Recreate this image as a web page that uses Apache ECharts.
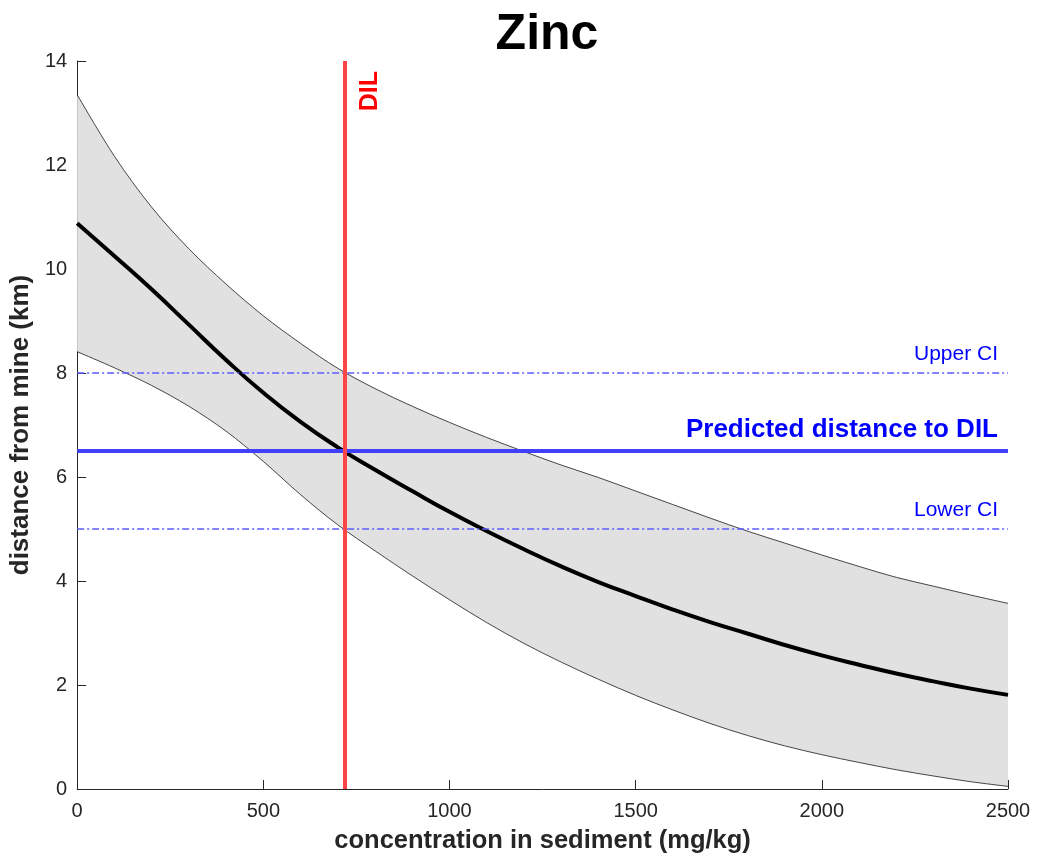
<!DOCTYPE html>
<html>
<head>
<meta charset="utf-8">
<script src="https://cdn.jsdelivr.net/npm/echarts@6/dist/echarts.min.js"></script>
<style>html,body{margin:0;padding:0;background:#fff;}#c{width:1037px;height:861px;}</style>
</head>
<body>
<div id="c"></div>
<script>
const concentration = [0,100,200,300,400,500,600,700,800,900,1000,1100,1200,1300,1400,1500,1600,1700,1800,1900,2000,2100,2200,2300,2400,2500];
const predicted = [10.88,10.25,9.61,8.93,8.25,7.62,7.06,6.57,6.14,5.73,5.33,4.96,4.61,4.28,3.98,3.71,3.45,3.21,2.99,2.77,2.57,2.39,2.22,2.07,1.93,1.81];
const upperBound = [13.35,12.17,11.19,10.39,9.71,9.10,8.57,8.09,7.70,7.36,7.05,6.76,6.49,6.23,5.99,5.73,5.47,5.21,4.96,4.73,4.50,4.28,4.07,3.90,3.73,3.57];
const lowerBound = [8.41,8.10,7.76,7.36,6.88,6.30,5.66,5.08,4.58,4.10,3.64,3.20,2.80,2.44,2.11,1.80,1.52,1.26,1.03,0.83,0.66,0.51,0.37,0.25,0.14,0.05];
const DIL = 720;
const predictedDistance = 6.5;
const upperCI = 8;
const lowerCI = 5;
const xTicks = [0,500,1000,1500,2000,2500];
const yTicks = [0,2,4,6,8,10,12,14];

const pair = (ys) => concentration.map((x, i) => [x, ys[i]]);

function curveSegments(pts) {
  let d = '';
  for (let i = 0; i < pts.length - 1; i++) {
    const p0 = pts[i - 1] || pts[i], p1 = pts[i], p2 = pts[i + 1], p3 = pts[i + 2] || pts[i + 1];
    const c1x = p1[0] + (p2[0] - p0[0]) / 6, c1y = p1[1] + (p2[1] - p0[1]) / 6;
    const c2x = p2[0] - (p3[0] - p1[0]) / 6, c2y = p2[1] - (p3[1] - p1[1]) / 6;
    d += ` C ${c1x} ${c1y} ${c2x} ${c2y} ${p2[0]} ${p2[1]}`;
  }
  return d;
}

const FONT = '"Liberation Sans", Arial, Helvetica, sans-serif';
const chart = echarts.init(document.getElementById('c'), null, {renderer: 'canvas'});
chart.setOption({
  animation: false,
  backgroundColor: '#ffffff',
  title: {
    text: 'Zinc', left: 542, top: 5, textAlign: 'center',
    textStyle: {fontFamily: FONT, fontWeight: 'bold', fontSize: 50, color: '#000'}
  },
  grid: {left: 76, right: 29, top: 61, bottom: 72, containLabel: false},
  xAxis: {
    type: 'value', min: 0, max: 2500, interval: 500,
    name: 'concentration in sediment (mg/kg)', nameLocation: 'middle', nameGap: 39,
    nameTextStyle: {fontFamily: FONT, fontWeight: 'bold', fontSize: 25.5, color: '#262626'},
    axisLine: {show: true, lineStyle: {color: '#262626', width: 1}},
    axisTick: {show: true, inside: true, length: 9, lineStyle: {color: '#262626'}},
    axisLabel: {fontFamily: FONT, fontSize: 20, color: '#262626', margin: 12,
      formatter: v => xTicks.includes(v) ? String(v) : ''},
    splitLine: {show: false}
  },
  yAxis: {
    type: 'value', min: 0, max: 14, interval: 2,
    name: 'distance from mine (km)', nameLocation: 'middle', nameGap: 41, nameRotate: 90,
    nameTextStyle: {fontFamily: FONT, fontWeight: 'bold', fontSize: 26, color: '#262626'},
    axisLine: {show: true, lineStyle: {color: '#262626', width: 1}},
    axisTick: {show: true, inside: true, length: 9, lineStyle: {color: '#262626'}},
    axisLabel: {fontFamily: FONT, fontSize: 20, color: '#262626', margin: 10,
      formatter: v => yTicks.includes(v) ? String(v) : ''},
    splitLine: {show: false}
  },
  series: [
    {
      type: 'custom', name: 'confidence band', data: [[0, 0]], silent: true, z: 1, clip: true,
      renderItem: (params, api) => {
        const up = concentration.map((x, i) => api.coord([x, upperBound[i]]));
        const lo = concentration.map((x, i) => api.coord([x, lowerBound[i]]));
        const loRev = lo.slice().reverse();
        const fillPath = `M ${up[0][0]} ${up[0][1]}` + curveSegments(up) +
          ` L ${loRev[0][0]} ${loRev[0][1]}` + curveSegments(loRev) + ' Z';
        const upPath = `M ${up[0][0]} ${up[0][1]}` + curveSegments(up);
        const loPath = `M ${lo[0][0]} ${lo[0][1]}` + curveSegments(lo);
        return {
          type: 'group',
          children: [
            {type: 'path', shape: {pathData: fillPath}, style: {fill: '#e1e1e1', stroke: null}},
            {type: 'path', shape: {pathData: upPath}, style: {fill: null, stroke: '#1a1a1a', lineWidth: 0.8}},
            {type: 'path', shape: {pathData: loPath}, style: {fill: null, stroke: '#1a1a1a', lineWidth: 0.8}}
          ]
        };
      }
    },
    {type: 'line', name: 'refs', data: [], z: 3,
      markLine: {
        silent: true, symbol: 'none', animation: false,
        data: [
          {yAxis: upperCI, lineStyle: {color: '#5c5cff', width: 1.5, type: [7, 3, 2, 3]},
            label: {show: true, formatter: 'Upper CI', position: 'insideEndTop', distance: [10, 8],
              fontFamily: FONT, fontSize: 21, color: '#0000ff'}},
          {yAxis: lowerCI, lineStyle: {color: '#5c5cff', width: 1.5, type: [7, 3, 2, 3]},
            label: {show: true, formatter: 'Lower CI', position: 'insideEndTop', distance: [10, 8],
              fontFamily: FONT, fontSize: 21, color: '#0000ff'}},
          {yAxis: predictedDistance, lineStyle: {color: '#4040ff', width: 4, type: 'solid'},
            label: {show: true, formatter: 'Predicted distance to DIL', position: 'insideEndTop', distance: [10, 8],
              fontFamily: FONT, fontSize: 26, fontWeight: 'bold', color: '#0000ff'}}
        ]
      }},
    {type: 'line', name: 'mean', data: pair(predicted), smooth: true, symbol: 'none',
      lineStyle: {color: '#000000', width: 4}, z: 4},
    {type: 'line', name: 'dil', data: [], z: 5,
      markLine: {
        silent: true, symbol: 'none', animation: false,
        data: [
          {xAxis: DIL, lineStyle: {color: '#ff4545', width: 4, type: 'solid'},
            label: {show: true, formatter: 'DIL', position: 'insideEndBottom', distance: [10, 12],
              fontFamily: FONT, fontSize: 25, fontWeight: 'bold', color: '#ff0000'}}
        ]
      }}
  ]
});
</script>
</body>
</html>
